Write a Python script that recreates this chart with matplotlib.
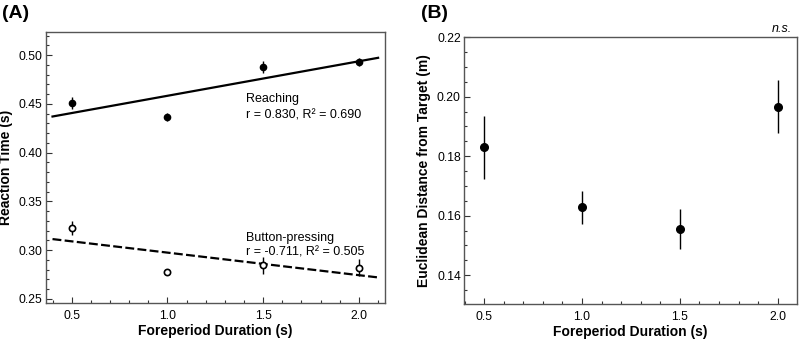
import numpy as np
import matplotlib
matplotlib.use("Agg")
import matplotlib.pyplot as plt
from matplotlib.ticker import MultipleLocator, FormatStrFormatter

plt.rcParams['font.family'] = ['Liberation Sans', 'DejaVu Sans']

foreperiod = [0.5, 1.0, 1.5, 2.0]
reach_rt = [0.451, 0.4365, 0.488, 0.4928]
reach_err = [0.0065, 0.004, 0.006, 0.004]
button_rt = [0.323, 0.2774, 0.2845, 0.2821]
button_err = [0.007, 0.002, 0.009, 0.009]
dist = [0.183, 0.1628, 0.1556, 0.1967]
dist_err = [0.0105, 0.0055, 0.0067, 0.009]

W, H = 799, 341
fig = plt.figure(figsize=(W/100, H/100), dpi=100)

def ax_at(l, t, r, b):
    return fig.add_axes([l/W, 1-b/H, (r-l)/W, (b-t)/H])

frame_col = '#555555'

def style(ax):
    for s in ax.spines.values():
        s.set_color(frame_col)
        s.set_linewidth(1.0)
    ax.tick_params(which='both', direction='in', top=False, right=False,
                   labelsize=8.7, color='#333333', width=0.8, pad=2.5)
    ax.tick_params(which='major', length=4)
    ax.tick_params(which='minor', length=2.5)
    ax.tick_params(axis='x', which='both', pad=5)
    ax.xaxis.set_major_locator(MultipleLocator(0.5))
    ax.xaxis.set_minor_locator(MultipleLocator(0.1))
    ax.xaxis.set_major_formatter(FormatStrFormatter('%.1f'))

lab_kw = dict(fontsize=10, fontweight='bold')

# Panel A
axA = ax_at(46, 32, 385, 303)
style(axA)
x = np.array(foreperiod)
xl = np.array([0.4, 2.1])
pr = np.polyfit(x, reach_rt, 1)
pb = np.polyfit(x, button_rt, 1)
axA.plot(xl, np.polyval(pr, xl), color='black', lw=1.6, zorder=2)
axA.plot(xl, np.polyval(pb, xl), color='black', lw=1.6, ls=(0, (4, 1.5)), zorder=2)
axA.errorbar(x, reach_rt, yerr=reach_err, fmt='o', color='black', ms=4.5,
             elinewidth=1.0, capsize=0, zorder=3)
axA.errorbar(x, button_rt, yerr=button_err, fmt='o', color='black', mfc='white',
             mew=1.2, ms=4.5, elinewidth=1.0, capsize=0, zorder=3)
axA.set_xlim(0.366, 2.136)
axA.set_ylim(0.2459, 0.5236)
axA.yaxis.set_major_locator(MultipleLocator(0.05))
axA.yaxis.set_minor_locator(MultipleLocator(0.01))
axA.yaxis.set_major_formatter(FormatStrFormatter('%.2f'))
axA.set_xlabel('Foreperiod Duration (s)', labelpad=1.5, **lab_kw)
axA.set_ylabel('Reaction Time (s)', labelpad=4, **lab_kw)
ann_kw = dict(fontsize=9, va='center', ha='left')
axA.text(1.41, 0.455, 'Reaching', **ann_kw)
axA.text(1.41, 0.4385, 'r = 0.830, R² = 0.690', **ann_kw)
axA.text(1.41, 0.3127, 'Button-pressing', **ann_kw)
axA.text(1.41, 0.2972, 'r = -0.711, R² = 0.505', **ann_kw)
fig.text(2/W, 1-14/H, '(A)', fontsize=14, fontweight='bold', va='center', ha='left')

# Panel B
axB = ax_at(464.3, 37.3, 797, 304)
style(axB)
axB.errorbar(x, dist, yerr=dist_err, fmt='o', color='black', ms=5.5,
             elinewidth=1.0, capsize=0, zorder=3)
axB.set_xlim(0.398, 2.099)
axB.set_ylim(0.1303, 0.22)
axB.yaxis.set_major_locator(MultipleLocator(0.02))
axB.yaxis.set_minor_locator(MultipleLocator(0.005))
axB.yaxis.set_major_formatter(FormatStrFormatter('%.2f'))
axB.set_xlabel('Foreperiod Duration (s)', labelpad=1.5, **lab_kw)
axB.set_ylabel('Euclidean Distance from Target (m)', labelpad=4, **lab_kw)
fig.text(421/W, 1-14/H, '(B)', fontsize=14, fontweight='bold', va='center', ha='left')
fig.text(792/W, 1-29/H, 'n.s.', fontsize=9, style='italic', va='center', ha='right')

fig.savefig('out.png', dpi=100)
